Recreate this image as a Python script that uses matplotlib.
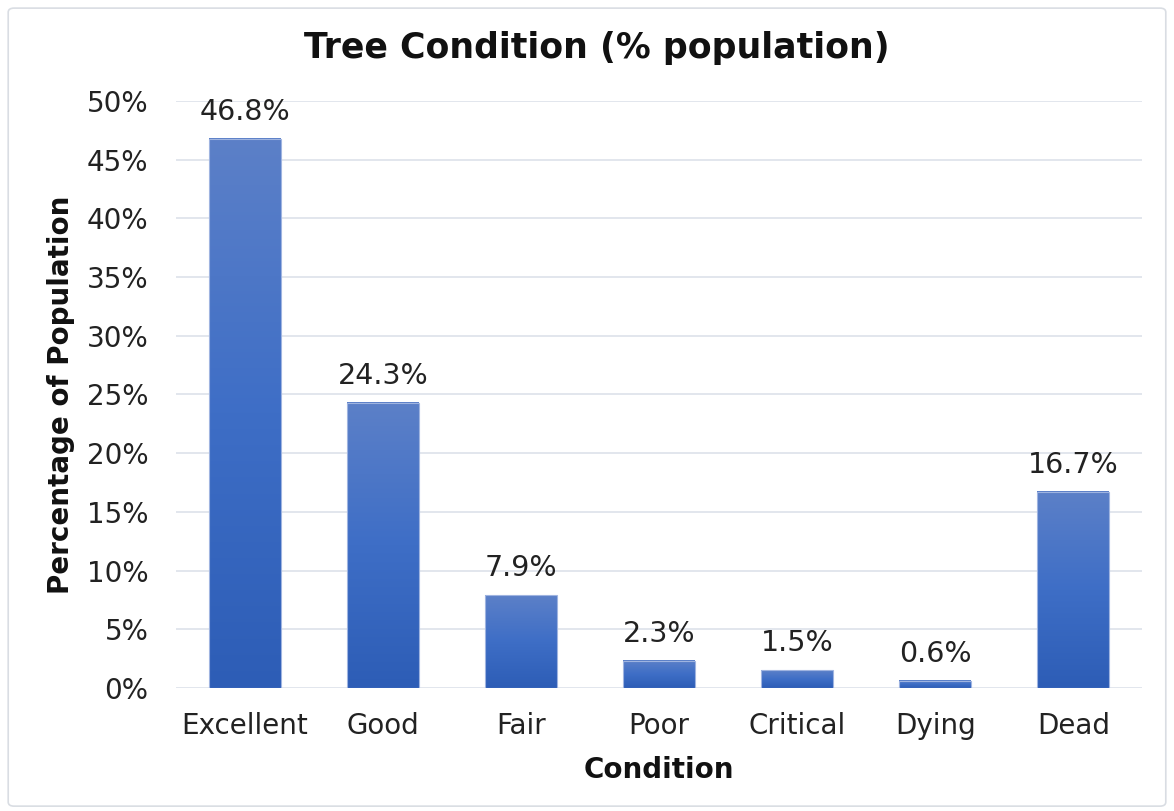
import matplotlib
matplotlib.use("Agg")
import matplotlib.pyplot as plt
import numpy as np
from matplotlib.colors import LinearSegmentedColormap
from matplotlib.patches import FancyBboxPatch
from matplotlib.ticker import FuncFormatter

categories = ["Excellent", "Good", "Fair", "Poor", "Critical", "Dying", "Dead"]
values = [46.8, 24.3, 7.9, 2.3, 1.5, 0.6, 16.7]
labels = ["46.8%", "24.3%", "7.9%", "2.3%", "1.5%", "0.6%", "16.7%"]

fig = plt.figure(figsize=(11.74, 8.11), dpi=100)
ax = fig.add_axes([0.150, 0.1517, 0.823, 0.7238])

cmap = LinearSegmentedColormap.from_list("g", ["#2d5db6", "#3e6ec6", "#5c80c8"])
grad = np.linspace(0, 1, 256).reshape(-1, 1)
x = np.arange(len(categories))
w = 0.52
bars = ax.bar(x, values, width=w, color="none", edgecolor="#9fb4e0", linewidth=0.8, zorder=3)
for b in bars:
    x0, y0 = b.get_x(), b.get_y()
    ax.imshow(grad, cmap=cmap, origin="lower", aspect="auto",
              extent=[x0, x0 + b.get_width(), y0, y0 + b.get_height()], zorder=2)

for xi, v, lab in zip(x, values, labels):
    ax.text(xi, v + 1.1, lab, ha="center", va="bottom", fontsize=20.5, color="#222222")

ax.set_xlim(-0.5, len(categories) - 0.5)
ax.set_ylim(0, 50)
ax.set_yticks(np.arange(0, 51, 5))
ax.yaxis.set_major_formatter(FuncFormatter(lambda v, p: f"{int(v)}%"))
ax.set_xticks(x)
ax.set_xticklabels(categories)
ax.tick_params(axis="both", length=0, labelsize=20, colors="#222222")
ax.tick_params(axis="y", pad=20)
ax.tick_params(axis="x", pad=17)
ax.grid(axis="y", color="#dde2ea", linewidth=1.2, zorder=0)
ax.set_axisbelow(True)
for s in ax.spines.values():
    s.set_visible(False)
ax.set_xlabel("Condition", fontsize=20, fontweight="bold", labelpad=12, color="#111111")
ax.set_ylabel("Percentage of Population", fontsize=20, fontweight="bold", labelpad=8, color="#111111")
fig.text(0.508, 0.941, "Tree Condition (% population)", ha="center", va="center",
         fontsize=25, fontweight="bold", color="#111111")

border = FancyBboxPatch((0.007, 0.006), 0.986, 0.984, boxstyle="round,pad=0,rounding_size=0.005",
                        transform=fig.transFigure, fill=False, edgecolor="#d9dde3", linewidth=1.2)
fig.patches.append(border)

fig.savefig("out.png", dpi=100)
